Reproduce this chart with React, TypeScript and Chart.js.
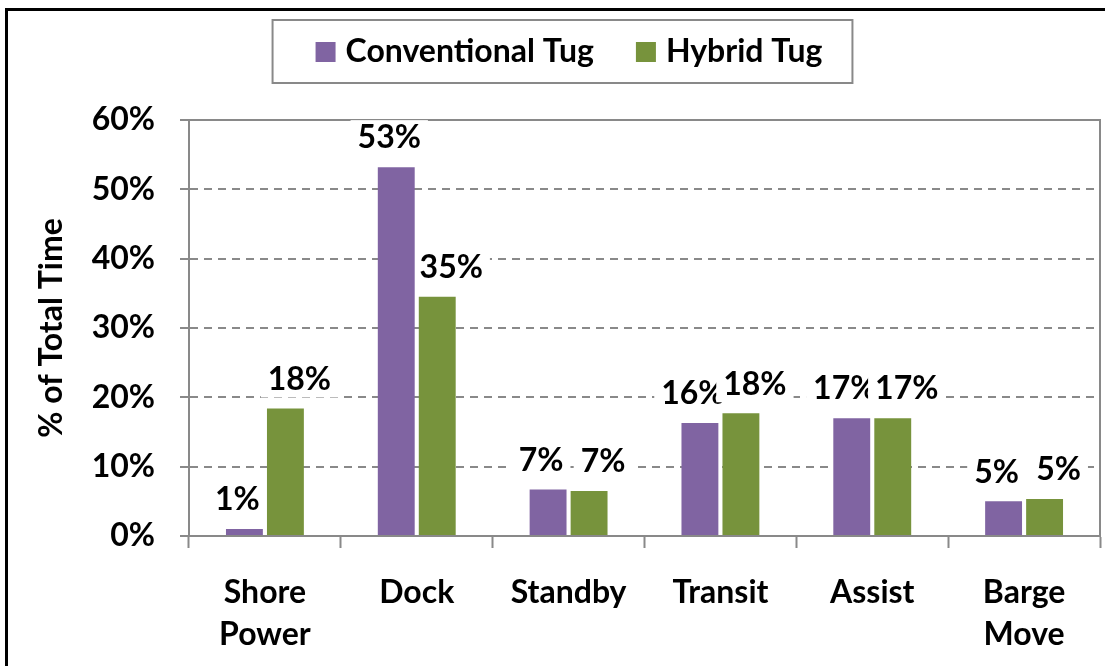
import React, { useEffect, useRef } from 'react';
import { Chart, registerables } from 'chart.js';

Chart.register(...registerables);

// ---- data ----
const categories: (string | string[])[] = [
  ['Shore', 'Power'],
  'Dock',
  'Standby',
  'Transit',
  'Assist',
  ['Barge', 'Move'],
];
const seriesNames = ['Conventional Tug', 'Hybrid Tug'];
const conventionalTug = [1.0, 53.2, 6.7, 16.3, 17.0, 5.0];
const hybridTug = [18.4, 34.5, 6.5, 17.7, 17.0, 5.35];
const yMin = 0;
const yMax = 60;
const yStep = 10;
const axisTitle = '% of Total Time';

// ---- style ----
const PURPLE = '#8064A2';
const GREEN = '#77933C';
const GRAY = '#898989';
const FONT_FAMILY = 'Lato, "Open Sans", sans-serif';
const FONT_SIZE = 32;
const CANVAS_W = 1097;
const CANVAS_H = 655;
const LABEL_DX = [-7, 14];
const LABEL_PAD_X = 7;

const plotBorderPlugin = {
  id: 'plotBorder',
  beforeDatasetsDraw(chart: any) {
    const { ctx, chartArea } = chart;
    ctx.save();
    ctx.strokeStyle = GRAY;
    ctx.lineWidth = 2;
    ctx.beginPath();
    ctx.moveTo(chartArea.left, chartArea.top);
    ctx.lineTo(chartArea.right, chartArea.top);
    ctx.lineTo(chartArea.right, chartArea.bottom);
    ctx.stroke();
    ctx.restore();
  },
};

const barLabelPlugin = {
  id: 'barLabels',
  beforeDatasetsDraw(chart: any) {
    const ctx = chart.ctx;
    ctx.save();
    ctx.font = `bold ${FONT_SIZE}px ${FONT_FAMILY}`;
    ctx.textAlign = 'center';
    ctx.textBaseline = 'middle';
    chart.data.datasets.forEach((ds: any, di: number) => {
      const meta = chart.getDatasetMeta(di);
      meta.data.forEach((bar: any, i: number) => {
        const v = ds.data[i] as number;
        const text = `${Math.round(v)}%`;
        const x = bar.x + LABEL_DX[di];
        const y = bar.y - 29;
        const w = ctx.measureText(text).width;
        ctx.fillStyle = '#ffffff';
        ctx.fillRect(x - w / 2 - LABEL_PAD_X, y - 18, w + 2 * LABEL_PAD_X, 36);
        ctx.fillStyle = '#000000';
        ctx.fillText(text, x, y);
      });
    });
    ctx.restore();
  },
};

const legendPlugin = {
  id: 'boxedLegend',
  afterDraw(chart: any) {
    const ctx = chart.ctx;
    const ds = chart.data.datasets;
    ctx.save();
    ctx.font = `bold ${FONT_SIZE}px ${FONT_FAMILY}`;
    ctx.textBaseline = 'middle';
    ctx.textAlign = 'left';
    const sq = 20;
    const textGap = 10;
    const itemGap = 42;
    const widths = ds.map((d: any) => ctx.measureText(d.label).width);
    let total = 0;
    widths.forEach((w: number, i: number) => {
      total += sq + textGap + w + (i < widths.length - 1 ? itemGap : 0);
    });
    const centerX = 561;
    let x = centerX - total / 2;
    const startX = x;
    const cy = 41;
    ds.forEach((d: any, i: number) => {
      ctx.fillStyle = d.backgroundColor;
      ctx.fillRect(x, cy - sq / 2, sq, sq);
      x += sq + textGap;
      ctx.fillStyle = '#000';
      ctx.fillText(d.label, x, cy);
      x += widths[i] + itemGap;
    });
    const endX = x - itemGap;
    ctx.strokeStyle = GRAY;
    ctx.lineWidth = 2;
    ctx.strokeRect(startX - 43, 9, endX + 30 - (startX - 43), 63);
    ctx.restore();
  },
};

export default function App() {
  const canvasRef = useRef<HTMLCanvasElement | null>(null);

  useEffect(() => {
    if (!canvasRef.current) return;
    const font = { family: FONT_FAMILY, size: FONT_SIZE, weight: 'bold' as const };
    const chart = new Chart(canvasRef.current, {
      type: 'bar',
      data: {
        labels: categories,
        datasets: [
          {
            label: seriesNames[0],
            data: conventionalTug,
            backgroundColor: PURPLE,
            categoryPercentage: 0.54,
            barPercentage: 0.9,
          },
          {
            label: seriesNames[1],
            data: hybridTug,
            backgroundColor: GREEN,
            categoryPercentage: 0.54,
            barPercentage: 0.9,
          },
        ],
      },
      options: {
        responsive: false,
        animation: false,
        devicePixelRatio: 1,
        layout: { padding: { top: 109, right: 5, left: 0, bottom: 0 } },
        plugins: {
          legend: { display: false },
          tooltip: { enabled: false },
        },
        scales: {
          x: {
            offset: true,
            grid: {
              display: true,
              offset: true,
              drawOnChartArea: false,
              drawTicks: true,
              tickLength: 12,
              tickWidth: 2,
              tickColor: GRAY,
              color: GRAY,
            },
            border: { display: true, color: GRAY, width: 2 },
            ticks: {
              color: '#000',
              font: { ...font, lineHeight: 42 / FONT_SIZE },
              padding: 24,
              maxRotation: 0,
              autoSkip: false,
            },
            afterFit: (s: any) => {
              s.height = 130;
            },
          },
          y: {
            min: yMin,
            max: yMax,
            ticks: {
              stepSize: yStep,
              callback: (v: any) => `${v}%`,
              color: '#000',
              font,
              padding: 25,
            },
            grid: {
              color: GRAY,
              lineWidth: 2,
              drawTicks: true,
              tickLength: 9,
              tickWidth: 2,
              tickColor: GRAY,
            },
            border: { display: true, color: GRAY, width: 2, dash: [8, 6] },
            title: {
              display: true,
              text: axisTitle,
              color: '#000',
              font,
              padding: { top: 24, bottom: 0 },
            },
            afterFit: (s: any) => {
              s.width = 181;
            },
          },
        },
      } as any,
      plugins: [plotBorderPlugin, barLabelPlugin, legendPlugin],
    });
    return () => chart.destroy();
  }, []);

  return (
    <div
      style={{
        position: 'absolute',
        left: 5,
        top: 8,
        width: CANVAS_W,
        height: CANVAS_H,
        borderTop: '3px solid #000',
        borderLeft: '3px solid #000',
        background: '#fff',
      }}
    >
      <canvas ref={canvasRef} width={CANVAS_W} height={CANVAS_H} style={{ display: 'block' }} />
    </div>
  );
}
